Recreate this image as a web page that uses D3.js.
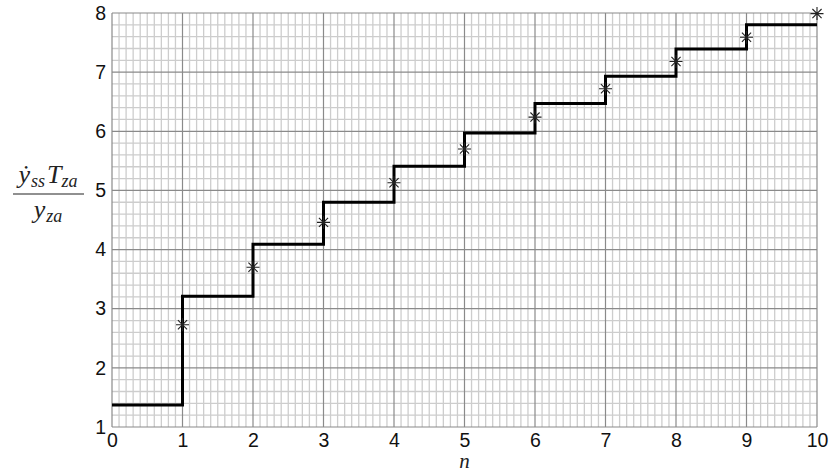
<!DOCTYPE html>
<html>
<head>
<meta charset="utf-8">
<script src="https://cdn.jsdelivr.net/npm/d3@7"></script>
<style>
  html, body { margin: 0; padding: 0; background: #fff; }
  svg { display: block; }
</style>
</head>
<body>
<svg id="chart" width="837" height="475"></svg>
<script>
// Step levels: value held on each interval [n, n+1)
const stepN = [0, 1, 2, 3, 4, 5, 6, 7, 8, 9];
const stepLevel = [1.37, 3.21, 4.09, 4.80, 5.41, 5.97, 6.47, 6.93, 7.39, 7.80];
// Asterisk samples
const starN = [1, 2, 3, 4, 5, 6, 7, 8, 9, 10];
const starVal = [2.73, 3.70, 4.46, 5.13, 5.70, 6.24, 6.72, 7.18, 7.59, 7.99];
// Axis ticks
const xTicks = [0, 1, 2, 3, 4, 5, 6, 7, 8, 9, 10];
const yTicks = [1, 2, 3, 4, 5, 6, 7, 8];

const svg = d3.select("#chart");
const plotL = 112, plotR = 817, plotT = 13, plotB = 427;

const x = d3.scaleLinear().domain([0, 10]).range([plotL, plotR]);
const y = d3.scaleLinear().domain([1, 8]).range([plotB, plotT]);

// Minor grid: 0.1 in n, 0.2 in value
const minorX = d3.range(0, 100).map(i => i / 10).filter(v => Math.abs(v - Math.round(v)) > 1e-9);
const minorY = d3.range(5, 40).map(i => i / 5).filter(v => Math.abs(v - Math.round(v)) > 1e-9);
const grid = svg.append("g");
grid.append("g").selectAll("line").data(minorX).join("line")
  .attr("x1", d => x(d)).attr("x2", d => x(d))
  .attr("y1", plotT).attr("y2", plotB)
  .attr("stroke", "#cdcdcd").attr("stroke-width", 1.3);
grid.append("g").selectAll("line").data(minorY).join("line")
  .attr("y1", d => y(d)).attr("y2", d => y(d))
  .attr("x1", plotL).attr("x2", plotR)
  .attr("stroke", "#cdcdcd").attr("stroke-width", 1.3);
// Major grid
grid.append("g").selectAll("line").data(xTicks).join("line")
  .attr("x1", d => x(d)).attr("x2", d => x(d))
  .attr("y1", plotT).attr("y2", plotB)
  .attr("stroke", "#8a8a8a").attr("stroke-width", 1.2);
grid.append("g").selectAll("line").data(yTicks).join("line")
  .attr("y1", d => y(d)).attr("y2", d => y(d))
  .attr("x1", plotL).attr("x2", plotR)
  .attr("stroke", "#8a8a8a").attr("stroke-width", 1.2);

// Axes (tick labels only)
const font = "'Liberation Sans', Arial, sans-serif";
const xAxis = svg.append("g").attr("transform", `translate(0,${plotB})`)
  .call(d3.axisBottom(x).tickValues(xTicks).tickSize(0).tickPadding(6).tickFormat(d3.format("d")));
const yAxis = svg.append("g").attr("transform", `translate(${plotL},0)`)
  .call(d3.axisLeft(y).tickValues(yTicks).tickSize(0).tickPadding(6).tickFormat(d3.format("d")));
[xAxis, yAxis].forEach(a => {
  a.select(".domain").remove();
  a.selectAll("text").attr("font-family", font).attr("font-size", 19.5).attr("fill", "#111");
});

// Staircase
const stepData = stepN.map((n, i) => [n, stepLevel[i]]);
stepData.push([10, stepLevel[stepLevel.length - 1]]);
const line = d3.line().x(d => x(d[0])).y(d => y(d[1])).curve(d3.curveStepAfter);
svg.append("path").datum(stepData)
  .attr("d", line)
  .attr("fill", "none").attr("stroke", "#000").attr("stroke-width", 3)
  .attr("stroke-linejoin", "miter");

// Asterisk markers
const r = 6.5;
const starPath = () => {
  const a = r * Math.SQRT1_2;
  return `M${-r},0L${r},0M0,${-r}L0,${r}M${-a},${-a}L${a},${a}M${-a},${a}L${a},${-a}`;
};
svg.append("g").selectAll("path").data(starN.map((n, i) => [n, starVal[i]])).join("path")
  .attr("transform", d => `translate(${x(d[0])},${y(d[1])})`)
  .attr("d", starPath())
  .attr("fill", "none").attr("stroke", "#222").attr("stroke-width", 1.1);

// Axis titles
svg.append("text").attr("x", x(5)).attr("y", 468)
  .attr("text-anchor", "middle")
  .attr("font-family", "'Liberation Serif', serif").attr("font-style", "italic")
  .attr("font-size", 21).attr("fill", "#222").text("n");

const lab = svg.append("g").attr("font-family", "'Liberation Serif', serif")
  .attr("font-style", "italic").attr("fill", "#222");
const num = lab.append("text").attr("x", 48).attr("y", 183).attr("text-anchor", "middle").attr("font-size", 26);
num.append("tspan").text("ẏ");
num.append("tspan").attr("font-size", 18).attr("dy", 4).attr("dx", 1).text("ss");
num.append("tspan").attr("dy", -4).attr("dx", 2).text("T");
num.append("tspan").attr("font-size", 18).attr("dy", 4).text("za");
svg.append("line").attr("x1", 13).attr("x2", 84).attr("y1", 194).attr("y2", 194)
  .attr("stroke", "#222").attr("stroke-width", 1.2);
const den = lab.append("text").attr("x", 48).attr("y", 218).attr("text-anchor", "middle").attr("font-size", 26);
den.append("tspan").text("y");
den.append("tspan").attr("font-size", 18).attr("dy", 4).attr("dx", 1).text("za");
</script>
</body>
</html>
